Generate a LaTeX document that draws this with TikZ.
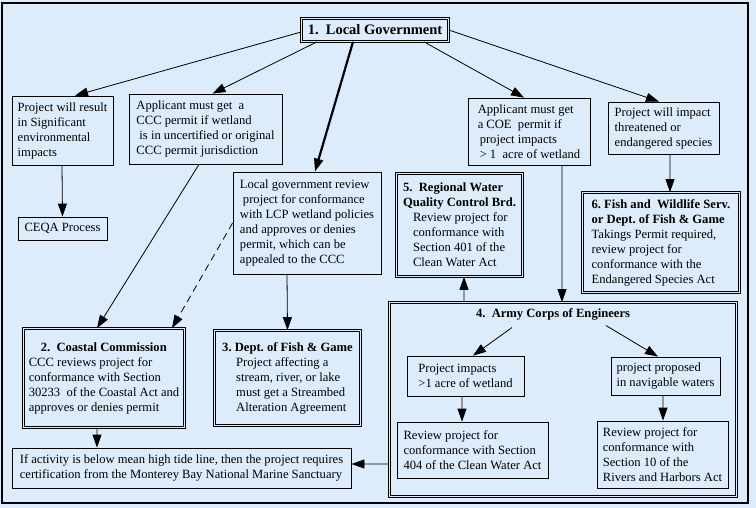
\documentclass[tikz,border=0pt]{standalone}
\usepackage{fontspec}
\setmainfont{Liberation Serif}
\usetikzlibrary{arrows.meta}
\definecolor{bg}{RGB}{221,236,250}
\begin{document}
\begin{tikzpicture}[x=1bp,y=-1bp,
  every node/.style={font=\fontsize{12.6bp}{15bp}\selectfont, inner xsep=5bp, inner ysep=3bp},
  box/.style={draw, line width=0.8bp, align=left},
  dbox/.style={draw, line width=0.7bp, double=bg, double distance=1.6bp, align=left},
  arr/.style={line width=0.8bp, -{Triangle[length=13bp,width=9bp]}},
  thickarr/.style={line width=2.2bp, -{Triangle[length=13bp,width=9bp]}},
  dasharr/.style={arr, dash pattern=on 7bp off 5bp},
  ttl/.style={font=\fontsize{12.6bp}{15bp}\selectfont\bfseries}
  ]
\useasboundingbox (0,0) rectangle (756,508);
\fill[bg] (0,0) rectangle (756,508);
\draw[line width=2bp] (2,3) rectangle (748,503);

\node[dbox, minimum width=147bp, minimum height=23bp, font=\fontsize{14.5bp}{16bp}\selectfont\bfseries] (LG) at (375,30) {1.\ \ Local Government};

\node[box, minimum width=101bp, minimum height=69bp] (A) at (62.5,130.5) {Project will result\\in Significant\\environmental\\impacts};
\node[box, minimum width=89bp, minimum height=23bp] (CEQA) at (62.5,228.5) {CEQA Process};
\node[box, minimum width=153bp, minimum height=70bp] (B) at (205.5,129) {Applicant must get\ \ a\\CCC permit if wetland\\\hspace*{3bp}is in uncertified or original\\CCC permit jurisdiction};
\node[box, minimum width=148bp, minimum height=102bp] (C) at (307,223) {Local government review\\\hspace*{3bp}project for conformance\\with LCP wetland policies\\and approves or denies\\permit, which can be\\appealed to the CCC};
\node[box, minimum width=122bp, minimum height=67bp] (D) at (529,131.5) {Applicant must get\\a COE\ \ permit if\\\hspace*{2bp}project impacts\\\hspace*{2bp}> 1\ \ acre of wetland};
\node[box, minimum width=111bp, minimum height=52bp] (E) at (663.5,128) {Project will impact\\threatened or\\endangered species};

\node[dbox, minimum width=126bp, minimum height=103bp] (R5) at (459.5,225) {\textbf{5.\ \ Regional Water}\\\textbf{Quality Control Brd.}\\\hspace*{10bp}Review project for\\\hspace*{10bp}conformance with\\\hspace*{10bp}Section 401 of the\\\hspace*{10bp}Clean Water Act};
\node[dbox, minimum width=157bp, minimum height=100bp] (R6) at (661,242.5) {\textbf{6.\ Fish and\ \ Wildlife Serv.}\\\textbf{or Dept.\ of Fish \& Game}\\Takings Permit required,\\review project for\\conformance with the\\Endangered Species Act};

\node[dbox, minimum width=161bp, minimum height=99bp] (R2) at (104,378) {\hspace*{12bp}\textbf{2.\ \ Coastal Commission}\\CCC reviews project for\\conformance with Section\\30233\ \ of the Coastal Act and\\approves or denies permit};
\node[dbox, minimum width=146bp, minimum height=95bp] (R3) at (287.5,378) {\textbf{3.\ Dept.\ of Fish \& Game}\\\hspace*{14bp}Project affecting a\\\hspace*{14bp}stream, river, or lake\\\hspace*{14bp}must get a Streambed\\\hspace*{14bp}Alteration Agreement};

\node[box, minimum width=339bp, minimum height=40bp] (MB) at (181.5,468) {If activity is below mean high tide line, then the project requires\\certification from the Monterey Bay National Marine Sanctuary};

\node[dbox, minimum width=347bp, minimum height=194bp] (R4) at (563,399.5) {};
\node[ttl] (T4) at (553,314) {4.\ \ Army Corps of Engineers};
\node[box, minimum width=117bp, minimum height=40bp] (I1) at (465.5,376) {Project impacts\\>1 acre of wetland};
\node[box, minimum width=109bp, minimum height=38bp] (I2) at (665.5,376) {project proposed\\in navigable waters};
\node[box, minimum width=151bp, minimum height=56bp] (W1) at (472.5,450) {Review project for\\conformance with Section\\404 of the Clean Water Act};
\node[box, minimum width=131bp, minimum height=67bp] (W2) at (662.5,454.5) {Review project for\\conformance with\\Section 10 of the\\Rivers and Harbors Act};

% connectors
\draw[arr] ([yshift=-2bp]LG.west) -- ([xshift=12.5bp]A.north);
\draw[arr] ([xshift=-58bp]LG.south) -- ([xshift=7bp]B.north);
\draw[thickarr] ([xshift=-22bp]LG.south) -- ([xshift=8bp]C.north);
\draw[arr] ([xshift=49bp]LG.south) -- ([xshift=-5bp]D.north);
\draw[arr] (LG.east) -- ([xshift=-4.5bp]E.north);
\draw[arr] ([xshift=-0.5bp]A.south) -- (CEQA.north);
\draw[arr] ([xshift=-6.5bp]B.south) -- ([xshift=-7bp]R2.north);
\draw[dasharr] (C.west) -- ([xshift=68bp]R2.north);
\draw[arr] ([xshift=-20bp]C.south) -- (R3.north);
\draw[arr] ([xshift=33bp]D.south) -- ([xshift=-1bp]R4.north);
\draw[arr] ([xshift=6.5bp]E.south) -- ([xshift=9bp]R6.north);
\draw[arr] ([xshift=-99bp]R4.north) -- ([xshift=4.5bp]R5.south);
\draw[arr] ([xshift=-7bp]R2.south) -- ([xshift=-84.5bp]MB.north);
\draw[arr] ([yshift=-64.5bp]R4.west) -- ([yshift=4bp]MB.east);
\draw[arr] ([xshift=-41bp,yshift=-4.5bp]T4.south) -- ([xshift=7.5bp]I1.north);
\draw[arr] ([xshift=53bp,yshift=-2.5bp]T4.south) -- ([xshift=-7.5bp]I2.north);
\draw[arr] ([xshift=-3.5bp]I1.south) -- ([xshift=-10.5bp]W1.north);
\draw[arr] ([xshift=-2.5bp]I2.south) -- ([xshift=0.5bp]W2.north);
\end{tikzpicture}
\end{document}
